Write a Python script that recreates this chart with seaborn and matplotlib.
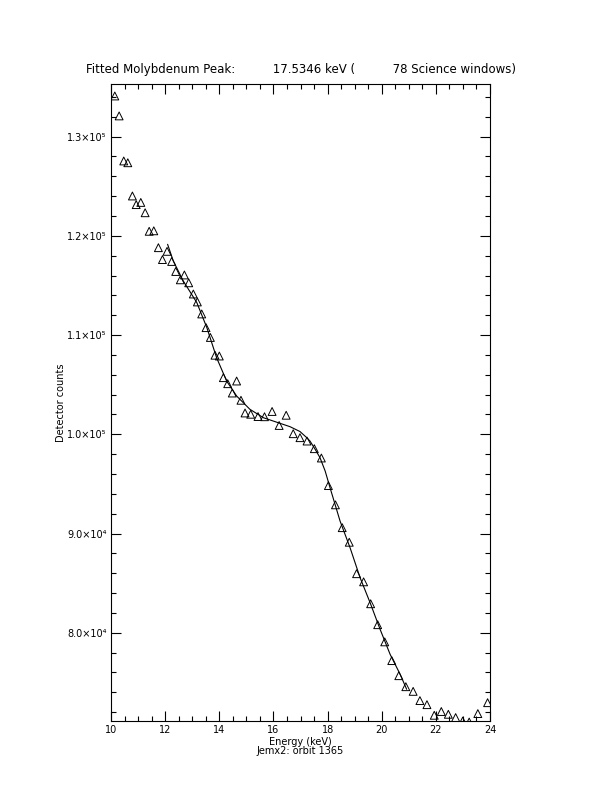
import numpy as np
import pandas as pd
import matplotlib
matplotlib.use('Agg')
import matplotlib.pyplot as plt
import seaborn as sns
from matplotlib.ticker import FixedLocator, MultipleLocator

# measured spectrum (triangles)
energy = [10.14, 10.30, 10.47, 10.62, 10.79, 10.93, 11.10, 11.26, 11.41, 11.58,
          11.75, 11.90, 12.07, 12.24, 12.39, 12.56, 12.71, 12.87, 13.04, 13.19,
          13.35, 13.51, 13.67, 13.84, 14.00, 14.15, 14.31, 14.48, 14.64, 14.80,
          14.95, 15.16, 15.43, 15.67, 15.95, 16.21, 16.47, 16.73, 16.98, 17.24,
          17.51, 17.77, 18.03, 18.29, 18.54, 18.80, 19.07, 19.33, 19.59, 19.85,
          20.11, 20.37, 20.63, 20.89, 21.16, 21.41, 21.67, 21.94, 22.20, 22.46,
          22.73, 22.99, 23.23, 23.55, 23.91]
counts = [134100, 132090, 127550, 127370, 124020, 123150, 123370, 122330, 120460, 120510,
          118810, 117610, 118440, 117420, 116410, 115570, 116060, 115270, 114140, 113340,
          112130, 110750, 109760, 107970, 107890, 105710, 105100, 104160, 105370, 103430,
          102150, 102020, 101790, 101770, 102300, 100890, 101920, 100060, 99660, 99320,
          98550, 97610, 94830, 92890, 90590, 89120, 85950, 85130, 82920, 80810,
          79080, 77190, 75670, 74560, 74090, 73160, 72750, 71680, 72060, 71780,
          71450, 71100, 71000, 71850, 72950]

# fitted curve
fit_energy = [12.09, 12.30, 12.67, 13.17, 13.54, 13.90, 14.27, 14.64, 15.13, 15.63,
              16.24, 16.61, 16.98, 17.23, 17.35, 17.54, 17.72, 17.91, 18.09, 18.46,
              18.83, 19.20, 19.57, 19.94, 20.31, 20.68, 20.92]
fit_counts = [119150, 117470, 115450, 113270, 110750, 107720, 105370, 103860, 102520, 101670,
              101110, 100770, 100280, 99660, 99320, 98490, 97640, 96300, 94620, 91260,
              88570, 85550, 83030, 80340, 77820, 75810, 74300]

x_ticks = [10, 12, 14, 16, 18, 20, 22, 24]
y_ticks = [80000, 90000, 100000, 110000, 120000, 130000]
y_tick_labels = ['8.0×10⁴', '9.0×10⁴', '1.0×10⁵', '1.1×10⁵', '1.2×10⁵', '1.3×10⁵']

df_points = pd.DataFrame({'Energy': energy, 'Counts': counts})
df_fit = pd.DataFrame({'Energy': fit_energy, 'Counts': fit_counts})

sns.set_style('ticks')
plt.rcParams['font.family'] = ['DejaVu Sans']

fig, ax = plt.subplots(figsize=(6.12, 7.92), dpi=100)
fig.subplots_adjust(left=0.1814, right=0.8007, bottom=0.0896, top=0.8936)

sns.lineplot(data=df_fit, x='Energy', y='Counts', ax=ax, color='black', linewidth=0.8,
             sort=False, estimator=None)
sns.scatterplot(data=df_points, x='Energy', y='Counts', ax=ax, marker='^', s=32,
                facecolor='none', edgecolor='black', linewidth=0.7, zorder=3)

ax.set_xlim(10, 24)
ax.set_ylim(71100, 135280)
ax.xaxis.set_major_locator(FixedLocator(x_ticks))
ax.xaxis.set_minor_locator(MultipleLocator(0.5))
ax.yaxis.set_major_locator(FixedLocator(y_ticks))
ax.set_yticklabels(y_tick_labels)
ax.yaxis.set_minor_locator(MultipleLocator(2000))

ax.tick_params(which='both', direction='in', top=True, right=True, labelsize=7,
               width=0.8, color='black', labelcolor='black', pad=3)
ax.tick_params(which='major', length=7)
ax.tick_params(which='minor', length=3.5)
for side in ax.spines.values():
    side.set_color('black')
    side.set_linewidth(0.8)

ax.set_title('Fitted Molybdenum Peak:          17.5346 keV (          78 Science windows)',
             fontsize=8.5, pad=8, color='black')
ax.set_xlabel('Energy (keV)\nJemx2: orbit 1365', fontsize=7, linespacing=0.9, color='black')
ax.xaxis.set_label_coords(0.5, -0.0245)
ax.set_ylabel('Detector counts', fontsize=7, color='black')
ax.yaxis.set_label_coords(-0.119, 0.5)

fig.savefig('out.png', dpi=100)
